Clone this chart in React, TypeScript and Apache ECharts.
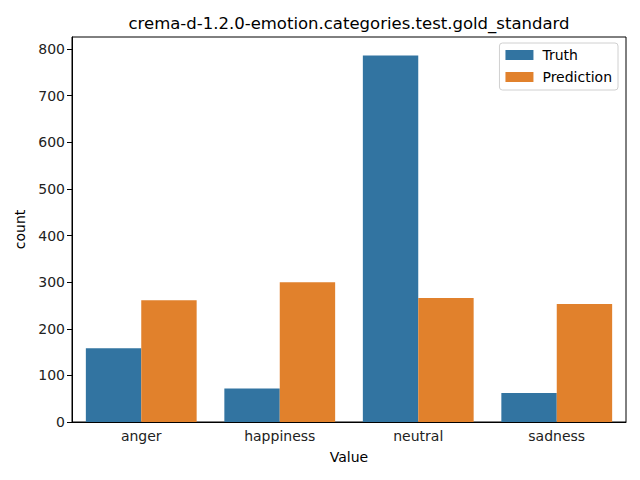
import React, { useEffect, useRef } from "react";
import * as echarts from "echarts";

const categories = ["anger", "happiness", "neutral", "sadness"];
const truthValues = [158, 72, 786, 62];
const predictionValues = [261, 300, 266, 253];
const yTicks = [0, 100, 200, 300, 400, 500, 600, 700, 800];
const titleText = "crema-d-1.2.0-emotion.categories.test.gold_standard";

export default function App() {
  const ref = useRef<HTMLDivElement>(null);
  useEffect(() => {
    const chart = echarts.init(ref.current!, null, { renderer: "svg" });
    const font = "DejaVu Sans";
    chart.setOption({
      animation: false,
      textStyle: { fontFamily: font },
      title: {
        text: titleText,
        left: 344,
        top: 10,
        textAlign: "center",
        textStyle: { fontFamily: font, fontSize: 16.5, fontWeight: "normal", color: "#000" },
      },
      legend: {
        orient: "vertical",
        right: 22,
        top: 43,
        itemWidth: 28,
        itemHeight: 10,
        itemGap: 8,
        padding: [5, 6, 6, 6],
        backgroundColor: "rgba(255,255,255,0.8)",
        borderColor: "#d0d0d0",
        borderWidth: 1,
        borderRadius: 3,
        icon: "rect",
        itemStyle: { borderWidth: 0 },
        textStyle: { fontFamily: font, fontSize: 14, color: "#000", padding: [0, 0, 0, 4] },
        data: ["Truth", "Prediction"],
      },
      grid: {
        left: 72,
        right: 14,
        top: 37,
        bottom: 58,
        show: true,
        borderColor: "#000",
        borderWidth: 1,
        containLabel: false,
      },
      xAxis: {
        type: "category",
        data: categories,
        name: "Value",
        nameLocation: "middle",
        nameGap: 28,
        nameTextStyle: { fontFamily: font, fontSize: 14, color: "#000" },
        axisLine: { lineStyle: { color: "#000", width: 1 } },
        axisTick: { alignWithLabel: true, length: 5, lineStyle: { color: "#000" } },
        axisLabel: { fontFamily: font, fontSize: 14, color: "#222", margin: 7 },
      },
      yAxis: {
        type: "value",
        min: 0,
        max: 825.8,
        name: "count",
        nameLocation: "middle",
        nameGap: 43,
        nameTextStyle: { fontFamily: font, fontSize: 14, color: "#000" },
        splitLine: { show: false },
        axisLine: { show: true, lineStyle: { color: "#000", width: 1 } },
        axisTick: { show: true, length: 5, customValues: yTicks, lineStyle: { color: "#000" } },
        axisLabel: { fontFamily: font, fontSize: 14, color: "#222", margin: 7, customValues: yTicks },
      },
      series: [
        {
          name: "Truth",
          type: "bar",
          data: truthValues,
          barGap: "0%",
          barCategoryGap: "20%",
          itemStyle: { color: "#3274a1" },
        },
        {
          name: "Prediction",
          type: "bar",
          data: predictionValues,
          barGap: "0%",
          barCategoryGap: "20%",
          itemStyle: { color: "#e1812c" },
        },
      ],
    });
    return () => chart.dispose();
  }, []);
  return <div ref={ref} style={{ width: 640, height: 480, margin: -8 }} />;
}
